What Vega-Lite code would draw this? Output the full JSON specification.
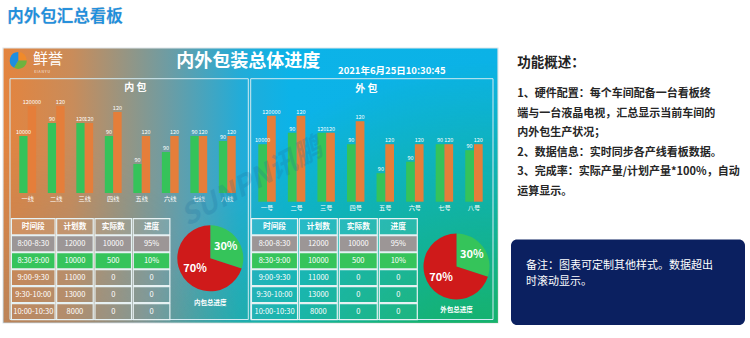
{
  "$schema": "https://vega.github.io/schema/vega-lite/v6.json",
  "width": 750,
  "height": 338,
  "autosize": "none",
  "padding": 0,
  "background": "#ffffff",
  "config": {"view": {"stroke": null}, "font": "Noto Sans CJK SC"},
  "datasets": {
    "bars": [
      {"board": "内包", "line": "一线", "series": "实际", "value": 57, "label": "10000"},
      {"board": "内包", "line": "一线", "series": "计划", "value": 87, "label": "120000"},
      {"board": "内包", "line": "二线", "series": "实际", "value": 70, "label": "90"},
      {"board": "内包", "line": "二线", "series": "计划", "value": 87, "label": "120"},
      {"board": "内包", "line": "三线", "series": "实际", "value": 70, "label": "120"},
      {"board": "内包", "line": "三线", "series": "计划", "value": 70, "label": "120"},
      {"board": "内包", "line": "四线", "series": "实际", "value": 57, "label": "90"},
      {"board": "内包", "line": "四线", "series": "计划", "value": 81, "label": "120"},
      {"board": "内包", "line": "五线", "series": "实际", "value": 29, "label": "90"},
      {"board": "内包", "line": "五线", "series": "计划", "value": 57, "label": "120"},
      {"board": "内包", "line": "六线", "series": "实际", "value": 41, "label": "90"},
      {"board": "内包", "line": "六线", "series": "计划", "value": 57, "label": "120"},
      {"board": "内包", "line": "七线", "series": "实际", "value": 57, "label": "90"},
      {"board": "内包", "line": "七线", "series": "计划", "value": 57, "label": "120"},
      {"board": "内包", "line": "八线", "series": "实际", "value": 52, "label": "90"},
      {"board": "内包", "line": "八线", "series": "计划", "value": 57, "label": "120"},
      {"board": "外包", "line": "一号", "series": "实际", "value": 57.5, "label": "10000"},
      {"board": "外包", "line": "一号", "series": "计划", "value": 86, "label": "120000"},
      {"board": "外包", "line": "二号", "series": "实际", "value": 69, "label": "90"},
      {"board": "外包", "line": "二号", "series": "计划", "value": 86, "label": "120"},
      {"board": "外包", "line": "三号", "series": "实际", "value": 69, "label": "120"},
      {"board": "外包", "line": "三号", "series": "计划", "value": 69, "label": "120"},
      {"board": "外包", "line": "四号", "series": "实际", "value": 57.5, "label": "90"},
      {"board": "外包", "line": "四号", "series": "计划", "value": 80.5, "label": "120"},
      {"board": "外包", "line": "五号", "series": "实际", "value": 28.5, "label": "90"},
      {"board": "外包", "line": "五号", "series": "计划", "value": 57.5, "label": "120"},
      {"board": "外包", "line": "六号", "series": "实际", "value": 40, "label": "90"},
      {"board": "外包", "line": "六号", "series": "计划", "value": 57.5, "label": "120"},
      {"board": "外包", "line": "七号", "series": "实际", "value": 57.5, "label": "90"},
      {"board": "外包", "line": "七号", "series": "计划", "value": 57.5, "label": "120"},
      {"board": "外包", "line": "八号", "series": "实际", "value": 51.5, "label": "90"},
      {"board": "外包", "line": "八号", "series": "计划", "value": 57.5, "label": "120"}
    ],
    "tables": [
      {"board": "内包", "r": 0, "时间段": "时间段", "计划数": "计划数", "实际数": "实际数", "进度": "进度", "状态": "表头"},
      {"board": "内包", "r": 1, "时间段": "8:00-8:30", "计划数": 12000, "实际数": 10000, "进度": "95%", "状态": "已结束"},
      {"board": "内包", "r": 2, "时间段": "8:30-9:00", "计划数": 10000, "实际数": 500, "进度": "10%", "状态": "进行中"},
      {"board": "内包", "r": 3, "时间段": "9:00-9:30", "计划数": 11000, "实际数": 0, "进度": "0", "状态": "未开始"},
      {"board": "内包", "r": 4, "时间段": "9:30-10:00", "计划数": 13000, "实际数": 0, "进度": "0", "状态": "未开始"},
      {"board": "内包", "r": 5, "时间段": "10:00-10:30", "计划数": 8000, "实际数": 0, "进度": "0", "状态": "未开始"},
      {"board": "外包", "r": 0, "时间段": "时间段", "计划数": "计划数", "实际数": "实际数", "进度": "进度", "状态": "表头"},
      {"board": "外包", "r": 1, "时间段": "8:00-8:30", "计划数": 12000, "实际数": 10000, "进度": "95%", "状态": "已结束"},
      {"board": "外包", "r": 2, "时间段": "8:30-9:00", "计划数": 10000, "实际数": 500, "进度": "10%", "状态": "进行中"},
      {"board": "外包", "r": 3, "时间段": "9:00-9:30", "计划数": 11000, "实际数": 0, "进度": "0", "状态": "未开始"},
      {"board": "外包", "r": 4, "时间段": "9:30-10:00", "计划数": 13000, "实际数": 0, "进度": "0", "状态": "未开始"},
      {"board": "外包", "r": 5, "时间段": "10:00-10:30", "计划数": 8000, "实际数": 0, "进度": "0", "状态": "未开始"}
    ]
  },
  "resolve": {"scale": {"x": "independent", "y": "independent", "color": "independent", "xOffset": "independent", "theta": "independent"}},
  "layer": [
    {
      "data": {"values": [{}]},
      "mark": {"type": "rect", "x": 3, "x2": 498, "y": 48, "y2": 323, "stroke": "#dfe6ea", "strokeWidth": 1.2,
        "fill": {"gradient": "linear", "x1": 0, "y1": 0, "x2": 1, "y2": 0, "stops": [
          {"offset": 0, "color": "#e4843e"},
          {"offset": 0.14, "color": "#c98c5a"},
          {"offset": 0.33, "color": "#6f9ca2"},
          {"offset": 0.48, "color": "#22acd8"},
          {"offset": 0.58, "color": "#0cb3e8"},
          {"offset": 1, "color": "#0bb2e6"}]}},
      "encoding": {}
    },
    {
      "data": {"values": [{}]},
      "mark": {"type": "rect", "x": 3, "x2": 498, "y": 48, "y2": 323,
        "fill": {"gradient": "radial", "x1": 0, "y1": 1, "r1": 0, "x2": 0, "y2": 1, "r2": 0.6, "stops": [
          {"offset": 0, "color": "rgba(90,130,150,0.45)"},
          {"offset": 1, "color": "rgba(90,130,150,0)"}]}},
      "encoding": {}
    },
    {
      "data": {"values": [{}]},
      "mark": {"type": "rect", "x": 3, "x2": 498, "y": 48, "y2": 323,
        "fill": {"gradient": "radial", "x1": 1, "y1": 1, "r1": 0, "x2": 1, "y2": 1, "r2": 0.75, "stops": [
          {"offset": 0, "color": "rgba(24,178,80,1)"},
          {"offset": 0.35, "color": "rgba(24,178,80,0.75)"},
          {"offset": 1, "color": "rgba(24,178,80,0)"}]}},
      "encoding": {}
    },
    {
      "data": {"values": [{}]},
      "mark": {"type": "rect", "x": 10, "x2": 248.3, "y": 78.7, "y2": 319.5, "fill": null, "stroke": "#d2eaf2", "strokeWidth": 1},
      "encoding": {}
    },
    {
      "data": {"values": [{}]},
      "mark": {"type": "rect", "x": 250.7, "x2": 493, "y": 78.7, "y2": 319.5, "fill": null, "stroke": "#d2eaf2", "strokeWidth": 1},
      "encoding": {}
    },
    {
      "data": {"values": [{"p": "橙", "v": 3, "k": 1}, {"p": "绿", "v": 4, "k": 2}, {"p": "蓝", "v": 5, "k": 3}]},
      "mark": {"type": "arc", "x": 18.3, "y": 60.5, "outerRadius": 8.5},
      "encoding": {
        "theta": {"field": "v", "type": "quantitative", "stack": true},
        "order": {"field": "k"},
        "color": {"field": "p", "type": "nominal", "scale": {"domain": ["橙", "绿", "蓝"], "range": ["#f08a2a", "#6db33f", "#1e8ee0"]}, "legend": null}
      }
    },
    {
      "data": {"values": [{"t": "鲜誉"}]},
      "mark": {"type": "text", "x": 33, "y": 58.5, "align": "left", "baseline": "middle", "fontSize": 15, "color": "#ffffff"},
      "encoding": {"text": {"field": "t"}}
    },
    {
      "data": {"values": [{"t": "X I A N Y U"}]},
      "mark": {"type": "text", "x": 34, "y": 71.5, "align": "left", "baseline": "middle", "fontSize": 3.5, "color": "#ffffff", "opacity": 0.8},
      "encoding": {"text": {"field": "t"}}
    },
    {
      "data": {"values": [{"t": "内外包汇总看板"}]},
      "mark": {"type": "text", "x": 7.3, "y": 17.3, "align": "left", "baseline": "middle", "fontSize": 16.5, "fontWeight": "bold", "color": "#1b8fe0", "stroke": "#8fa6b8", "strokeWidth": 0.4, "strokeOpacity": 0.5},
      "encoding": {"text": {"field": "t"}}
    },
    {
      "data": {"values": [{"t": "内外包装总体进度"}]},
      "mark": {"type": "text", "x": 248.3, "y": 61.7, "align": "center", "baseline": "middle", "fontSize": 18, "fontWeight": "bold", "color": "#ffffff"},
      "encoding": {"text": {"field": "t"}}
    },
    {
      "data": {"values": [{"t": "2021年6月25日10:30:45"}]},
      "mark": {"type": "text", "x": 391.8, "y": 71.3, "align": "center", "baseline": "middle", "fontSize": 9.5, "fontWeight": "bold", "color": "#ffffff"},
      "encoding": {"text": {"field": "t"}}
    },
    {
      "data": {"values": [{"t": "内 包"}]},
      "mark": {"type": "text", "x": 135.3, "y": 88.3, "align": "center", "baseline": "middle", "fontSize": 10, "fontWeight": "bold", "color": "#ffffff"},
      "encoding": {"text": {"field": "t"}}
    },
    {
      "data": {"values": [{"t": "外 包"}]},
      "mark": {"type": "text", "x": 366.3, "y": 89.3, "align": "center", "baseline": "middle", "fontSize": 10, "fontWeight": "bold", "color": "#ffffff"},
      "encoding": {"text": {"field": "t"}}
    },
    {
      "data": {"name": "bars"},
      "transform": [{"filter": "datum.board === '内包'"}],
      "encoding": {
        "x": {"field": "line", "type": "nominal", "sort": ["一线", "二线", "三线", "四线", "五线", "六线", "七线", "八线"], "scale": {"range": [19.3, 235.7], "paddingInner": 0.41, "paddingOuter": 0}, "axis": null}
      },
      "layer": [
        {
          "mark": {"type": "bar"},
          "encoding": {
            "xOffset": {"field": "series", "type": "nominal", "sort": ["实际", "计划"], "scale": {"paddingInner": 0, "paddingOuter": 0}},
            "y": {"field": "value", "type": "quantitative", "scale": {"domain": [0, 100], "range": [193, 93], "nice": false}, "axis": null},
            "color": {"field": "series", "type": "nominal", "scale": {"domain": ["实际", "计划"], "range": ["#35c35a", "#e57e3a"]}, "legend": null}
          }
        },
        {
          "mark": {"type": "text", "baseline": "bottom", "dy": -1, "fontSize": 5.5, "color": "#ffffff"},
          "encoding": {
            "xOffset": {"field": "series", "type": "nominal", "sort": ["实际", "计划"], "scale": {"paddingInner": 0, "paddingOuter": 0}},
            "y": {"field": "value", "type": "quantitative", "scale": {"domain": [0, 100], "range": [193, 93], "nice": false}, "axis": null},
            "text": {"field": "label"}
          }
        },
        {
          "transform": [{"filter": "datum.series === '实际'"}],
          "mark": {"type": "text", "baseline": "middle", "dy": 6.3, "fontSize": 6.2, "color": "#ffffff"},
          "encoding": {
            "y": {"datum": 0, "type": "quantitative", "scale": {"domain": [0, 100], "range": [193, 93], "nice": false}, "axis": null},
            "text": {"field": "line"}
          }
        }
      ]
    },
    {
      "data": {"name": "bars"},
      "transform": [{"filter": "datum.board === '外包'"}],
      "encoding": {
        "x": {"field": "line", "type": "nominal", "sort": ["一号", "二号", "三号", "四号", "五号", "六号", "七号", "八号"], "scale": {"range": [258.3, 482.7], "paddingInner": 0.41, "paddingOuter": 0}, "axis": null}
      },
      "layer": [
        {
          "mark": {"type": "bar"},
          "encoding": {
            "xOffset": {"field": "series", "type": "nominal", "sort": ["实际", "计划"], "scale": {"paddingInner": 0, "paddingOuter": 0}},
            "y": {"field": "value", "type": "quantitative", "scale": {"domain": [0, 100], "range": [201.7, 101.7], "nice": false}, "axis": null},
            "color": {"field": "series", "type": "nominal", "scale": {"domain": ["实际", "计划"], "range": ["#35c35a", "#e57e3a"]}, "legend": null}
          }
        },
        {
          "mark": {"type": "text", "baseline": "bottom", "dy": -1, "fontSize": 5.5, "color": "#ffffff"},
          "encoding": {
            "xOffset": {"field": "series", "type": "nominal", "sort": ["实际", "计划"], "scale": {"paddingInner": 0, "paddingOuter": 0}},
            "y": {"field": "value", "type": "quantitative", "scale": {"domain": [0, 100], "range": [201.7, 101.7], "nice": false}, "axis": null},
            "text": {"field": "label"}
          }
        },
        {
          "transform": [{"filter": "datum.series === '实际'"}],
          "mark": {"type": "text", "baseline": "middle", "dy": 6.3, "fontSize": 6.2, "color": "#ffffff"},
          "encoding": {
            "y": {"datum": 0, "type": "quantitative", "scale": {"domain": [0, 100], "range": [201.7, 101.7], "nice": false}, "axis": null},
            "text": {"field": "line"}
          }
        }
      ]
    },
    {
      "data": {"name": "tables"},
      "transform": [{"filter": "datum.board === '内包'"}, {"fold": ["时间段", "计划数", "实际数", "进度"], "as": ["col", "val"]}],
      "resolve": {"scale": {"x": "independent"}},
      "layer": [
        {
          "transform": [{"filter": "datum.col === '时间段'"}],
          "encoding": {
            "x": {"field": "col", "type": "nominal", "scale": {"domain": ["时间段"], "range": [10.5, 56], "paddingInner": 0.04, "paddingOuter": 0.02}, "axis": null},
            "y": {"field": "r", "type": "ordinal", "scale": {"domain": [0, 1, 2, 3, 4, 5], "range": [218.3, 320], "paddingInner": 0.05, "paddingOuter": 0.02}, "axis": null}
          },
          "layer": [
            {"mark": {"type": "rect", "stroke": "#e6f1f3", "strokeWidth": 1.2},
             "encoding": {"color": {"field": "状态", "type": "nominal", "scale": {"domain": ["表头", "已结束", "进行中", "未开始"], "range": ["rgba(255,255,255,0.10)", "#9c9696", "#36c45b", "rgba(255,255,255,0.04)"]}, "legend": null}}},
            {"transform": [{"filter": "datum.r === 0"}], "mark": {"type": "text", "fontSize": 7.7, "fontWeight": "bold", "color": "#ffffff"}, "encoding": {"text": {"field": "val"}}},
            {"transform": [{"filter": "datum.r > 0"}], "mark": {"type": "text", "fontSize": 7.5, "color": "#ffffff"}, "encoding": {"text": {"field": "val"}}}
          ]
        },
        {
          "transform": [{"filter": "datum.col !== '时间段'"}],
          "encoding": {
            "x": {"field": "col", "type": "nominal", "scale": {"domain": ["计划数", "实际数", "进度"], "range": [55.8, 170.7], "paddingInner": 0.045, "paddingOuter": 0.022}, "axis": null},
            "y": {"field": "r", "type": "ordinal", "scale": {"domain": [0, 1, 2, 3, 4, 5], "range": [218.3, 320], "paddingInner": 0.05, "paddingOuter": 0.02}, "axis": null}
          },
          "layer": [
            {"mark": {"type": "rect", "stroke": "#e6f1f3", "strokeWidth": 1.2},
             "encoding": {"color": {"field": "状态", "type": "nominal", "scale": {"domain": ["表头", "已结束", "进行中", "未开始"], "range": ["rgba(255,255,255,0.10)", "#9c9696", "#36c45b", "rgba(255,255,255,0.04)"]}, "legend": null}}},
            {"transform": [{"filter": "datum.r === 0"}], "mark": {"type": "text", "fontSize": 7.7, "fontWeight": "bold", "color": "#ffffff"}, "encoding": {"text": {"field": "val"}}},
            {"transform": [{"filter": "datum.r > 0"}], "mark": {"type": "text", "fontSize": 7.5, "color": "#ffffff"}, "encoding": {"text": {"field": "val"}}}
          ]
        }
      ]
    },
    {
      "data": {"name": "tables"},
      "transform": [{"filter": "datum.board === '外包'"}, {"fold": ["时间段", "计划数", "实际数", "进度"], "as": ["col", "val"]}],
      "resolve": {"scale": {"x": "independent"}},
      "layer": [
        {
          "transform": [{"filter": "datum.col === '时间段'"}],
          "encoding": {
            "x": {"field": "col", "type": "nominal", "scale": {"domain": ["时间段"], "range": [250.5, 298.5], "paddingInner": 0.04, "paddingOuter": 0.02}, "axis": null},
            "y": {"field": "r", "type": "ordinal", "scale": {"domain": [0, 1, 2, 3, 4, 5], "range": [218.3, 320], "paddingInner": 0.05, "paddingOuter": 0.02}, "axis": null}
          },
          "layer": [
            {"mark": {"type": "rect", "stroke": "#e6f1f3", "strokeWidth": 1.2},
             "encoding": {"color": {"field": "状态", "type": "nominal", "scale": {"domain": ["表头", "已结束", "进行中", "未开始"], "range": ["rgba(255,255,255,0.10)", "#9c9696", "#36c45b", "rgba(255,255,255,0.04)"]}, "legend": null}}},
            {"transform": [{"filter": "datum.r === 0"}], "mark": {"type": "text", "fontSize": 7.7, "fontWeight": "bold", "color": "#ffffff"}, "encoding": {"text": {"field": "val"}}},
            {"transform": [{"filter": "datum.r > 0"}], "mark": {"type": "text", "fontSize": 7.5, "color": "#ffffff"}, "encoding": {"text": {"field": "val"}}}
          ]
        },
        {
          "transform": [{"filter": "datum.col !== '时间段'"}],
          "encoding": {
            "x": {"field": "col", "type": "nominal", "scale": {"domain": ["计划数", "实际数", "进度"], "range": [298.3, 418.3], "paddingInner": 0.05, "paddingOuter": 0.025}, "axis": null},
            "y": {"field": "r", "type": "ordinal", "scale": {"domain": [0, 1, 2, 3, 4, 5], "range": [218.3, 320], "paddingInner": 0.05, "paddingOuter": 0.02}, "axis": null}
          },
          "layer": [
            {"mark": {"type": "rect", "stroke": "#e6f1f3", "strokeWidth": 1.2},
             "encoding": {"color": {"field": "状态", "type": "nominal", "scale": {"domain": ["表头", "已结束", "进行中", "未开始"], "range": ["rgba(255,255,255,0.10)", "#9c9696", "#36c45b", "rgba(255,255,255,0.04)"]}, "legend": null}}},
            {"transform": [{"filter": "datum.r === 0"}], "mark": {"type": "text", "fontSize": 7.7, "fontWeight": "bold", "color": "#ffffff"}, "encoding": {"text": {"field": "val"}}},
            {"transform": [{"filter": "datum.r > 0"}], "mark": {"type": "text", "fontSize": 7.5, "color": "#ffffff"}, "encoding": {"text": {"field": "val"}}}
          ]
        }
      ]
    },
    {
      "data": {"values": [{"t": "SUNPN讯鹏"}]},
      "mark": {"type": "text", "x": 252, "y": 183, "angle": -28, "align": "center", "baseline": "middle", "fontSize": 28, "fontWeight": "bold", "fontStyle": "italic", "color": "#1d6f9e", "opacity": 0.22},
      "encoding": {"text": {"field": "t"}}
    },
    {
      "data": {"values": [{"board": "内包", "part": "已完成", "pct": 30, "label": "30%"}, {"board": "内包", "part": "未完成", "pct": 70, "label": "70%"}]},
      "encoding": {
        "x": {"field": "board", "type": "nominal", "scale": {"type": "point", "domain": ["内包", "外包"], "range": [210.3, 456.5], "padding": 0}, "axis": null},
        "y": {"field": "board", "type": "nominal", "scale": {"type": "point", "domain": ["内包", "外包"], "range": [258.3, 266.5], "padding": 0}, "axis": null}
      },
      "layer": [
        {"mark": {"type": "arc", "outerRadius": 33},
         "encoding": {
           "theta": {"field": "pct", "type": "quantitative", "stack": true},
           "order": {"field": "pct", "sort": "ascending"},
           "color": {"field": "part", "type": "nominal", "scale": {"domain": ["已完成", "未完成"], "range": ["#35c45a", "#cf1a1a"]}, "legend": null}
         }},
        {"mark": {"type": "text", "radius": 19, "fontSize": 11, "fontWeight": "bold", "color": "#ffffff"},
         "encoding": {
           "theta": {"field": "pct", "type": "quantitative", "stack": true},
           "order": {"field": "pct", "sort": "ascending"},
           "detail": {"field": "part"},
           "text": {"field": "label"}
         }},
        {"data": {"values": [{"board": "内包", "caption": "内包总进度"}]},
         "mark": {"type": "text", "dy": 44.2, "fontSize": 6.5, "fontWeight": "bold", "color": "#ffffff"},
         "encoding": {"text": {"field": "caption"}}}
      ]
    },
    {
      "data": {"values": [{"board": "外包", "part": "已完成", "pct": 30, "label": "30%"}, {"board": "外包", "part": "未完成", "pct": 70, "label": "70%"}]},
      "encoding": {
        "x": {"field": "board", "type": "nominal", "scale": {"type": "point", "domain": ["内包", "外包"], "range": [210.3, 456.5], "padding": 0}, "axis": null},
        "y": {"field": "board", "type": "nominal", "scale": {"type": "point", "domain": ["内包", "外包"], "range": [258.3, 266.5], "padding": 0}, "axis": null}
      },
      "layer": [
        {"mark": {"type": "arc", "outerRadius": 33},
         "encoding": {
           "theta": {"field": "pct", "type": "quantitative", "stack": true},
           "order": {"field": "pct", "sort": "ascending"},
           "color": {"field": "part", "type": "nominal", "scale": {"domain": ["已完成", "未完成"], "range": ["#35c45a", "#cf1a1a"]}, "legend": null}
         }},
        {"mark": {"type": "text", "radius": 19, "fontSize": 11, "fontWeight": "bold", "color": "#ffffff"},
         "encoding": {
           "theta": {"field": "pct", "type": "quantitative", "stack": true},
           "order": {"field": "pct", "sort": "ascending"},
           "detail": {"field": "part"},
           "text": {"field": "label"}
         }},
        {"data": {"values": [{"board": "外包", "caption": "外包总进度"}]},
         "mark": {"type": "text", "dy": 43, "fontSize": 6.5, "fontWeight": "bold", "color": "#ffffff"},
         "encoding": {"text": {"field": "caption"}}}
      ]
    },
    {
      "data": {"values": [{"t": "功能概述："}]},
      "mark": {"type": "text", "x": 517.3, "y": 62.7, "align": "left", "baseline": "middle", "fontSize": 13.5, "fontWeight": "bold", "color": "#222222"},
      "encoding": {"text": {"field": "t"}}
    },
    {
      "data": {"values": [
        {"i": 1, "line": "1、硬件配置：每个车间配备一台看板终"},
        {"i": 2, "line": "端与一台液晶电视，汇总显示当前车间的"},
        {"i": 3, "line": "内外包生产状况；"},
        {"i": 4, "line": "2、数据信息：实时同步各产线看板数据。"},
        {"i": 5, "line": "3、完成率：实际产量/计划产量*100%，自动"},
        {"i": 6, "line": "运算显示。"}
      ]},
      "mark": {"type": "text", "x": 517.3, "align": "left", "baseline": "middle", "fontSize": 11, "fontWeight": "bold", "color": "#262626"},
      "encoding": {
        "y": {"field": "i", "type": "ordinal", "scale": {"type": "point", "range": [94, 191.7], "padding": 0}, "axis": null},
        "text": {"field": "line"}
      }
    },
    {
      "data": {"values": [{}]},
      "mark": {"type": "rect", "x": 511, "x2": 745, "y": 239.5, "y2": 325, "fill": "#0b2060", "cornerRadius": 6},
      "encoding": {}
    },
    {
      "data": {"values": [
        {"i": 1, "line": "备注：图表可定制其他样式。数据超出"},
        {"i": 2, "line": "时滚动显示。"}
      ]},
      "mark": {"type": "text", "x": 526, "align": "left", "baseline": "middle", "fontSize": 11, "color": "#ffffff"},
      "encoding": {
        "y": {"field": "i", "type": "ordinal", "scale": {"type": "point", "range": [266, 281.7], "padding": 0}, "axis": null},
        "text": {"field": "line"}
      }
    }
  ]
}
